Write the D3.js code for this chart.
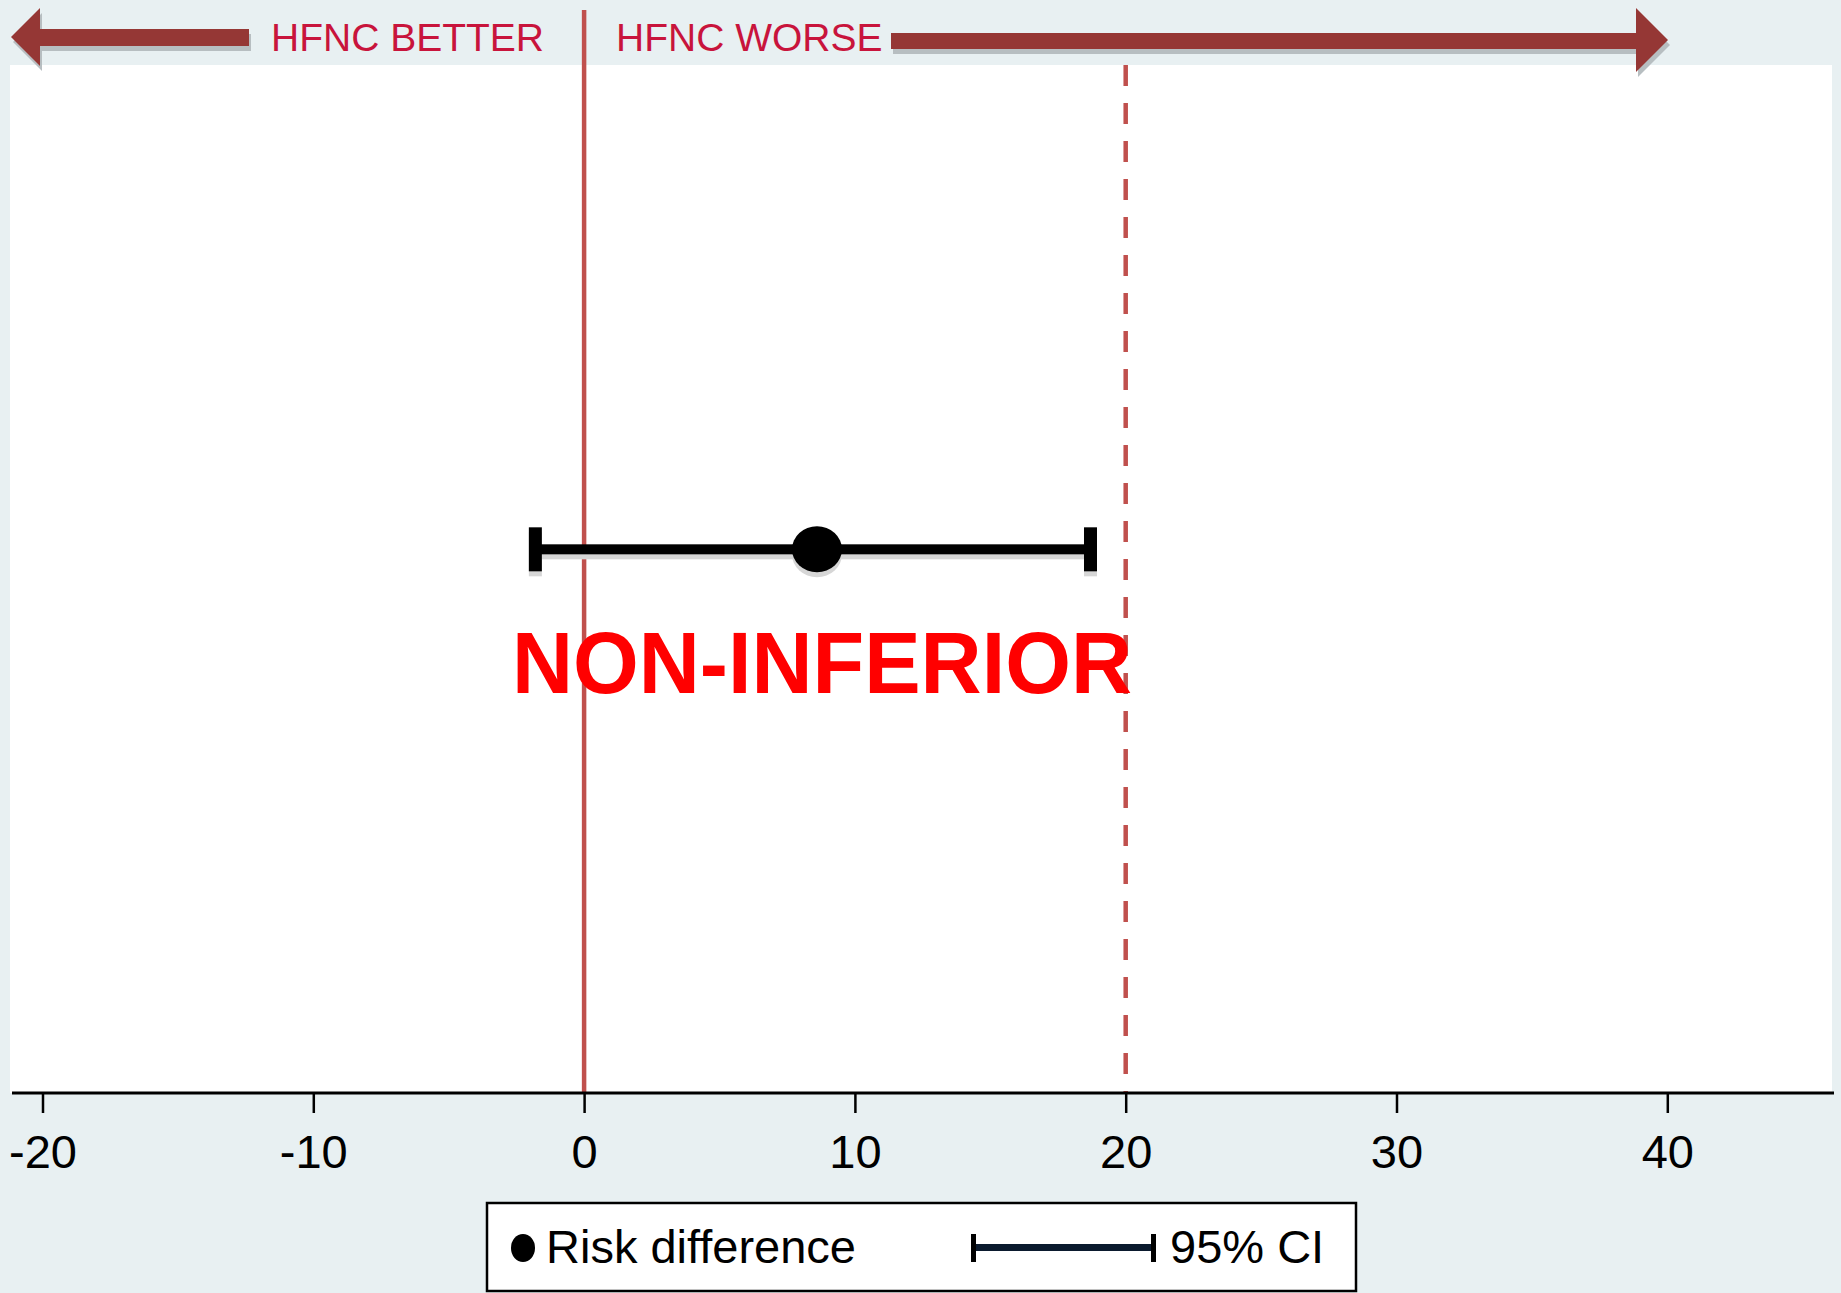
<!DOCTYPE html>
<html>
<head>
<meta charset="utf-8">
<script src="https://cdn.jsdelivr.net/npm/d3@7"></script>
<style>
  html, body { margin: 0; padding: 0; background: #e8f0f2; }
  svg { display: block; }
  text { font-family: "Liberation Sans", Arial, sans-serif; }
</style>
</head>
<body>
<svg id="chart" width="1841" height="1293"></svg>
<script>
// ---- data ----
const tickValues = [-20, -10, 0, 10, 20, 30, 40];
const tickLabels = ["-20", "-10", "0", "10", "20", "30", "40"];
const rows = ["Risk difference"];
const estimates = [8.6];
const ciLow = [-1.8];
const ciHigh = [18.7];
const nullLine = [0];
const marginLine = [20];
const resultLabel = "NON-INFERIOR";
const directionLabels = ["HFNC BETTER", "HFNC WORSE"];
const legendLabels = ["Risk difference", "95% CI"];

// ---- layout ----
const W = 1841, H = 1293;
const plot = { left: 10, right: 1832, top: 65, bottom: 1093 };
const svg = d3.select("#chart");

const x = d3.scaleLinear().domain([-20, 40]).range([42.5, 1667.3]);
const y = d3.scaleLinear().domain([0, 1.9]).range([plot.bottom, 60]);

// background
svg.append("rect").attr("width", W).attr("height", H).attr("fill", "#e8f0f2");
svg.append("rect").attr("x", plot.left).attr("y", plot.top)
  .attr("width", plot.right - plot.left).attr("height", plot.bottom - plot.top)
  .attr("fill", "#ffffff");

// direction arrows
const arrowCol = "#953735", shadowCol = "#b7bec1";
function leftArrow(tipX, tipY, headBack, headHalf, shaftEnd, shaftTop, shaftBot) {
  return `M${tipX},${tipY} L${headBack},${tipY - headHalf} L${headBack},${shaftTop} L${shaftEnd},${shaftTop} L${shaftEnd},${shaftBot} L${headBack},${shaftBot} L${headBack},${tipY + headHalf} Z`;
}
function rightArrow(tipX, tipY, headBack, headHalfTop, headHalfBot, shaftStart, shaftTop, shaftBot) {
  return `M${tipX},${tipY} L${headBack},${tipY + headHalfBot} L${headBack},${shaftBot} L${shaftStart},${shaftBot} L${shaftStart},${shaftTop} L${headBack},${shaftTop} L${headBack},${tipY - headHalfTop} Z`;
}
const lPath = leftArrow(11, 37, 40, 29, 249, 29, 46);
const rPath = rightArrow(1668, 40, 1636, 32, 32, 891, 33, 49);
svg.append("path").attr("d", lPath).attr("fill", shadowCol).attr("transform", "translate(2,5)");
svg.append("path").attr("d", rPath).attr("fill", shadowCol).attr("transform", "translate(2,5)");
svg.append("path").attr("d", lPath).attr("fill", arrowCol);
svg.append("path").attr("d", rPath).attr("fill", arrowCol);

svg.append("text").attr("x", 271).attr("y", 51).attr("font-size", 39)
  .attr("fill", "#c8143c").text(directionLabels[0]);
svg.append("text").attr("x", 616).attr("y", 51).attr("font-size", 39)
  .attr("fill", "#c8143c").text(directionLabels[1]);

// reference lines
svg.selectAll(".nullLine").data(nullLine).enter().append("line")
  .attr("x1", d => x(d)).attr("x2", d => x(d))
  .attr("y1", 10).attr("y2", plot.bottom)
  .attr("stroke", "#c0504d").attr("stroke-width", 4.5);
svg.selectAll(".marginLine").data(marginLine).enter().append("line")
  .attr("x1", d => x(d)).attr("x2", d => x(d))
  .attr("y1", plot.top).attr("y2", plot.bottom)
  .attr("stroke", "#c0504d").attr("stroke-width", 4.5)
  .attr("stroke-dasharray", "21 17");

// CI with shadow
const capH = 44, lineW = 10, capW = 13, rPt = 25;
const ciData = rows.map((r, i) => ({ r, est: estimates[i], lo: ciLow[i], hi: ciHigh[i], yv: 1 }));
function drawCI(g, col, dy) {
  const gg = g.append("g").attr("transform", `translate(0,${dy})`);
  ciData.forEach(d => {
    const cy = y(d.yv);
    gg.append("rect").attr("x", x(d.lo)).attr("y", cy - lineW / 2)
      .attr("width", x(d.hi) - x(d.lo)).attr("height", lineW).attr("fill", col);
    gg.append("rect").attr("x", x(d.lo) - capW / 2).attr("y", cy - capH / 2)
      .attr("width", capW).attr("height", capH).attr("fill", col);
    gg.append("rect").attr("x", x(d.hi) - capW / 2).attr("y", cy - capH / 2)
      .attr("width", capW).attr("height", capH).attr("fill", col);
    gg.append("ellipse").attr("cx", x(d.est)).attr("cy", cy).attr("rx", rPt).attr("ry", rPt - 2).attr("fill", col);
  });
}
drawCI(svg, "#d6d6d6", 5);
drawCI(svg, "#000000", 0);

// result label
svg.append("text").attr("x", x(estimates[0]) + 5).attr("y", 693)
  .attr("text-anchor", "middle").attr("font-size", 87).attr("font-weight", "bold")
  .attr("fill", "#ff0000")
  .attr("textLength", 620).attr("lengthAdjust", "spacingAndGlyphs")
  .text(resultLabel);

// x axis
const axis = d3.axisBottom(x).tickValues(tickValues).tickFormat((d, i) => tickLabels[i])
  .tickSize(20).tickSizeOuter(0);
const ax = svg.append("g").attr("transform", `translate(0,${plot.bottom})`).call(axis);
ax.select(".domain").remove();
ax.append("line").attr("x1", 12).attr("x2", 1834).attr("y1", 0).attr("y2", 0)
  .attr("stroke", "#000").attr("stroke-width", 3);
ax.selectAll(".tick line").attr("stroke", "#000").attr("stroke-width", 2.5);
ax.selectAll(".tick text").attr("font-size", 47).attr("fill", "#000")
  .attr("font-family", "'Liberation Sans', Arial, sans-serif")
  .attr("dy", null).attr("y", 75);

// legend
const lg = svg.append("g");
lg.append("rect").attr("x", 487).attr("y", 1203).attr("width", 869).attr("height", 88)
  .attr("fill", "#ffffff").attr("stroke", "#000").attr("stroke-width", 2.5);
lg.append("ellipse").attr("cx", 523).attr("cy", 1248).attr("rx", 12).attr("ry", 14).attr("fill", "#000");
lg.append("text").attr("x", 546).attr("y", 1263).attr("font-size", 47).attr("fill", "#000").text(legendLabels[0]);
lg.append("rect").attr("x", 972).attr("y", 1244).attr("width", 180).attr("height", 7).attr("fill", "#0b1a2e");
lg.append("rect").attr("x", 971).attr("y", 1234).attr("width", 5).attr("height", 28).attr("fill", "#000");
lg.append("rect").attr("x", 1151).attr("y", 1234).attr("width", 5).attr("height", 28).attr("fill", "#000");
lg.append("text").attr("x", 1170).attr("y", 1263).attr("font-size", 47).attr("fill", "#000").text(legendLabels[1]);
</script>
</body>
</html>
